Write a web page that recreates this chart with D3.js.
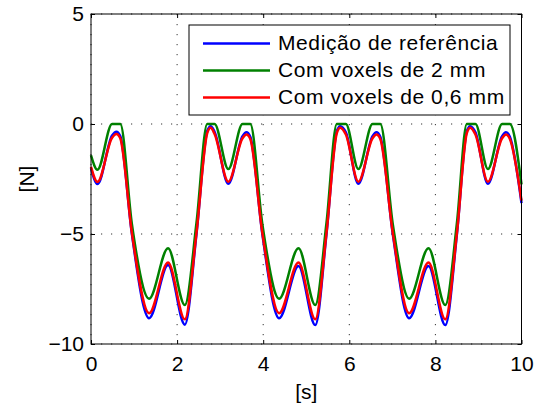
<!DOCTYPE html>
<html>
<head>
<meta charset="utf-8">
<script src="https://cdn.jsdelivr.net/npm/d3@7"></script>
<style>
body { margin: 0; background: white; }
text { font-family: "Liberation Sans", Arial, sans-serif; }
</style>
</head>
<body>
<script>
// values (key points, smoothed with a monotone curve)
let time = [0.00, 0.15, 0.49, 0.59, 0.68, 0.95, 1.35, 1.79, 2.18, 2.45, 2.70, 2.78, 2.87,
            3.19, 3.52, 3.61, 3.70, 3.98, 4.37, 4.82, 5.21, 5.47, 5.71, 5.79, 5.92,
            6.21, 6.54, 6.63, 6.72, 7.01, 7.39, 7.84, 8.23, 8.50, 8.73, 8.81, 8.93,
            9.22, 9.55, 9.64, 9.73, 10.0]
let referencia = [-2.01, -2.73, -0.52, -0.35, -0.55, -5.0, -8.83, -6.41, -9.12, -5.0, -0.32, -0.10, -0.35,
                  -2.72, -0.55, -0.38, -0.58, -5.0, -8.83, -6.45, -9.14, -5.0, -0.32, -0.10, -0.38,
                  -2.72, -0.55, -0.38, -0.58, -5.0, -8.83, -6.45, -9.14, -5.0, -0.32, -0.10, -0.38,
                  -2.72, -0.55, -0.38, -0.58, -3.60]
let voxels2 = [-1.42, -2.08, 0, 0, 0, -4.55, -7.94, -5.65, -8.23, -4.5, 0, 0, 0,
               -2.05, 0, 0, 0, -4.55, -7.94, -5.65, -8.23, -4.5, 0, 0, 0,
               -2.05, 0, 0, 0, -4.55, -7.94, -5.65, -8.23, -4.5, 0, 0, 0,
               -2.05, 0, 0, 0, -2.75]
let voxels06 = [-1.95, -2.63, -0.62, -0.45, -0.65, -4.95, -8.60, -6.29, -8.88, -4.95, -0.42, -0.17, -0.45,
                -2.62, -0.65, -0.48, -0.68, -4.95, -8.60, -6.30, -8.88, -4.95, -0.42, -0.17, -0.48,
                -2.62, -0.65, -0.48, -0.68, -4.95, -8.60, -6.30, -8.88, -4.95, -0.42, -0.17, -0.48,
                -2.62, -0.65, -0.48, -0.68, -3.48]
let seriesNames = ["Medição de referência", "Com voxels de 2 mm", "Com voxels de 0,6 mm"]
let seriesColors = ["#0000ff", "#008000", "#ff0000"]
let xTicks = [0, 2, 4, 6, 8, 10]
let yTicks = [-10, -5, 0, 5]

let w = 539, h = 406
let pLeft = 91, pRight = 521.5, pTop = 14, pBottom = 344

let xScale = d3.scaleLinear().domain([0, 10]).range([pLeft, pRight])
let yScale = d3.scaleLinear().domain([-10, 5]).range([pBottom, pTop])

let svg = d3.select("body").append("svg")
    .attr("width", w)
    .attr("height", h)

// grid
svg.append("g").selectAll("line")
    .data(xTicks)
    .enter()
    .append("line")
    .attr("x1", d => xScale(d)).attr("x2", d => xScale(d))
    .attr("y1", pTop).attr("y2", pBottom)
    .attr("stroke", "#333").attr("stroke-width", 1)
    .attr("stroke-dasharray", "1.2,8.8")
svg.append("g").selectAll("line")
    .data(yTicks)
    .enter()
    .append("line")
    .attr("x1", pLeft).attr("x2", pRight)
    .attr("y1", d => yScale(d)).attr("y2", d => yScale(d))
    .attr("stroke", "#333").attr("stroke-width", 1)
    .attr("stroke-dasharray", "1.2,8.8")

// axes with inward ticks
let fmt = d => d < 0 ? "\u2212" + Math.abs(d) : String(d)
let xAxis = d3.axisBottom(xScale).tickValues(xTicks).tickFormat(fmt).tickSizeInner(-4).tickSizeOuter(0).tickPadding(12.5)
let yAxis = d3.axisLeft(yScale).tickValues(yTicks).tickFormat(fmt).tickSizeInner(-4).tickSizeOuter(0).tickPadding(7)

svg.append("g").attr("transform", "translate(0," + pBottom + ")").call(xAxis)
svg.append("g").attr("transform", "translate(" + pLeft + ",0)").call(yAxis)
svg.append("g").attr("transform", "translate(0," + pTop + ")")
    .call(d3.axisTop(xScale).tickValues(xTicks).tickFormat("").tickSizeInner(-4).tickSizeOuter(0))
svg.append("g").attr("transform", "translate(" + pRight + ",0)")
    .call(d3.axisRight(yScale).tickValues(yTicks).tickFormat("").tickSizeInner(-4).tickSizeOuter(0))

svg.selectAll(".domain").remove()
svg.selectAll(".tick line").attr("stroke", "#000")
svg.selectAll(".tick text").attr("font-size", 21).attr("fill", "#000")
    .style("font-family", "'Liberation Sans', Arial, sans-serif")

// lines
let allSeries = [referencia, voxels2, voxels06]
let line = d3.line()
    .x((d, i) => xScale(time[i]))
    .y(d => yScale(d))
    .curve(d3.curveMonotoneX)

svg.append("g").selectAll("path")
    .data(allSeries)
    .enter()
    .append("path")
    .attr("d", d => line(d))
    .attr("fill", "none")
    .attr("stroke", (d, i) => seriesColors[i])
    .attr("stroke-width", 2.5)
    .attr("stroke-linejoin", "round")

// frame
svg.append("rect")
    .attr("x", pLeft).attr("y", pTop)
    .attr("width", pRight - pLeft).attr("height", pBottom - pTop)
    .attr("fill", "none").attr("stroke", "#000").attr("stroke-width", 1)

// axis labels
svg.append("text")
    .attr("x", (pLeft + pRight) / 2).attr("y", 399)
    .attr("text-anchor", "middle").attr("font-size", 21)
    .text("[s]")
svg.append("text")
    .attr("transform", "translate(34," + (pTop + pBottom) / 2 + ") rotate(-90)")
    .attr("text-anchor", "middle").attr("font-size", 21)
    .text("[N]")

// legend
let legend = svg.append("g")
legend.append("rect")
    .attr("x", 189).attr("y", 25)
    .attr("width", 321).attr("height", 90)
    .attr("fill", "white").attr("stroke", "#000").attr("stroke-width", 1)
let rows = legend.selectAll("g.row")
    .data(seriesNames)
    .enter()
    .append("g")
    .attr("class", "row")
    .attr("transform", (d, i) => "translate(0," + (43.5 + i * 27) + ")")
rows.append("line")
    .attr("x1", 203).attr("x2", 270)
    .attr("stroke", (d, i) => seriesColors[i])
    .attr("stroke-width", 2.5)
rows.append("text")
    .attr("x", 278).attr("y", 6.8)
    .attr("font-size", 21)
    .attr("letter-spacing", 0.6)
    .text(d => d)
</script>
</body>
</html>
